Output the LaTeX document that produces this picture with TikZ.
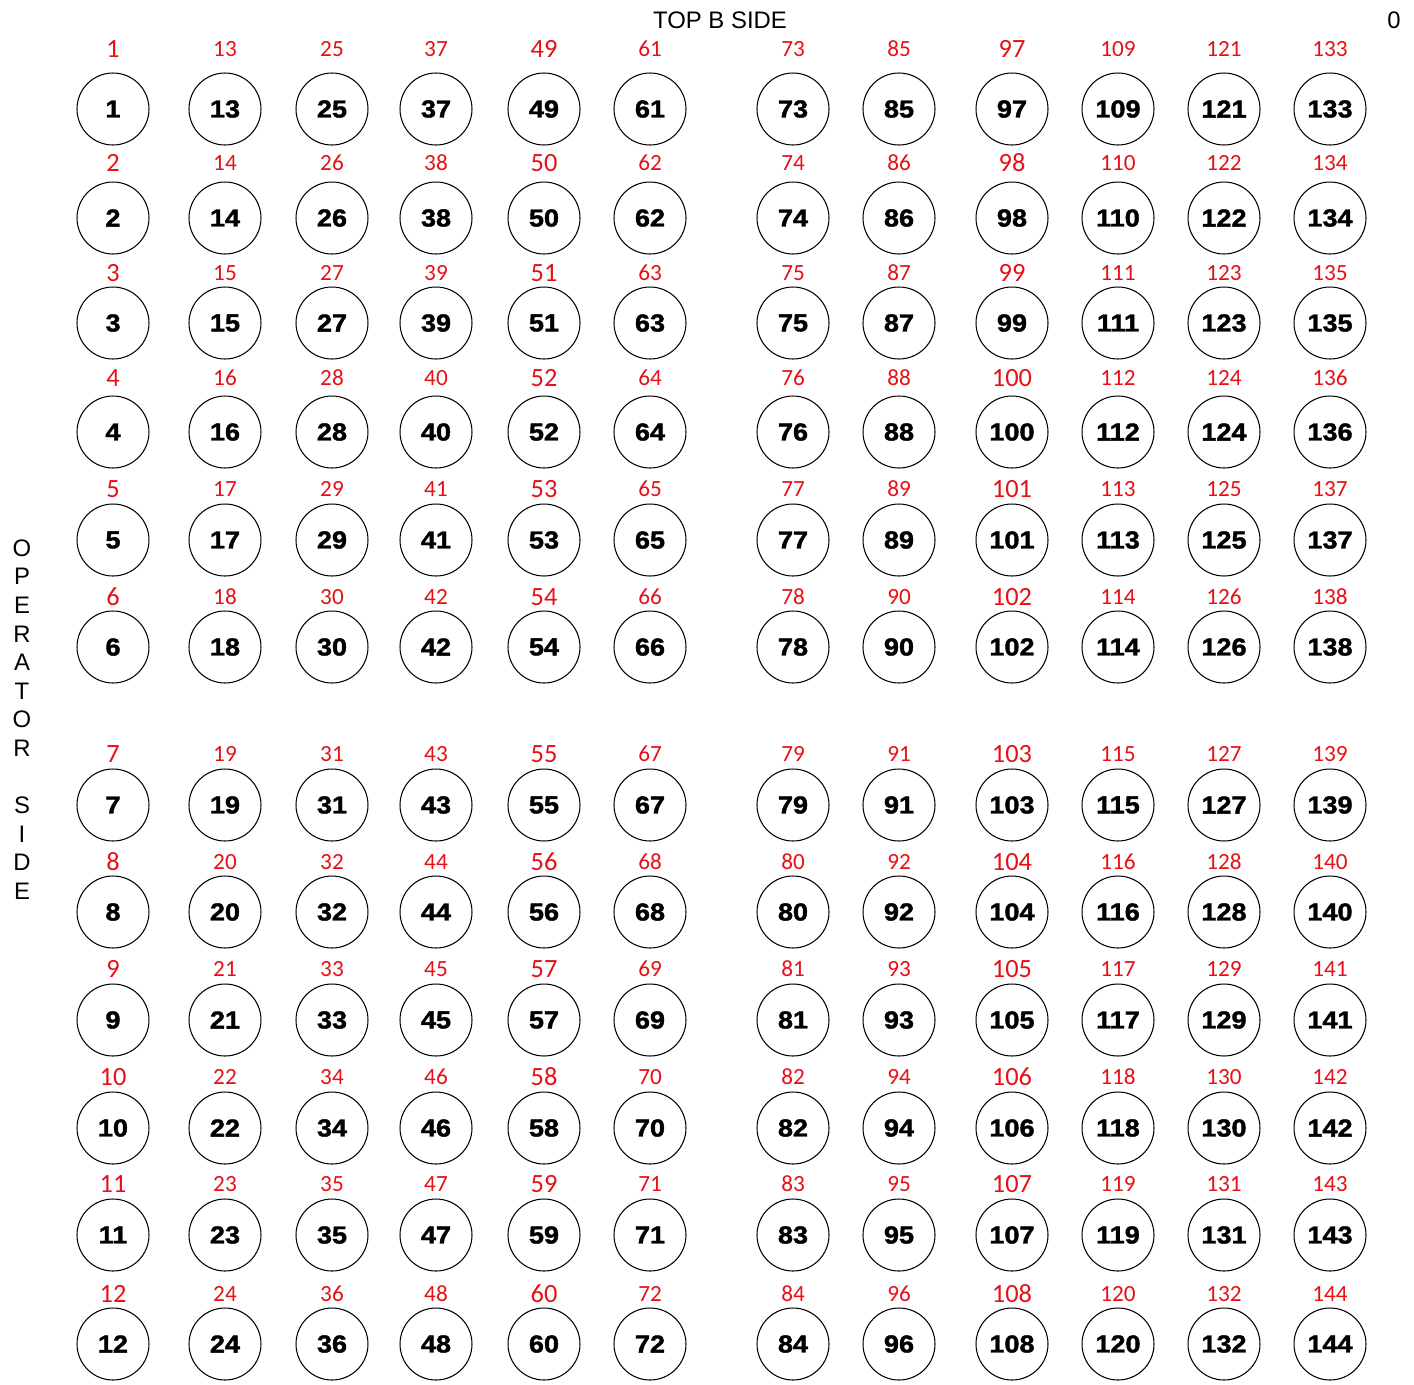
\documentclass[tikz,border=0pt]{standalone}
\usepackage{fontspec}
\setmainfont{Liberation Sans}
\newfontfamily\tagfont{Carlito}
\newfontfamily\holefont{Liberation Sans}[BoldFeatures={FakeBold=1.6,FakeStretch=1.1}]
\usepackage{tikz}
\usetikzlibrary{positioning}
\definecolor{tagred}{RGB}{230,16,22}
\tikzset{
  holebox/.style={circle, draw=black, line width=0.6pt, minimum size=1.44cm, inner sep=0pt,
    font=\holefont\fontsize{14}{14}\selectfont\bfseries},
  tagsmall/.style={text=tagred, inner sep=0pt, font=\tagfont\fontsize{13.2}{13.2}\selectfont},
  tagbig/.style={text=tagred, inner sep=0pt, font=\tagfont\fontsize{15}{15}\selectfont},
  sidetext/.style={inner sep=0pt, font=\fontsize{13.6}{13.6}\selectfont}
}
\begin{document}
\begin{tikzpicture}[x=0.02cm, y=-0.02cm]
\useasboundingbox (0,0) rectangle (1414,1384);

% headings
\node[sidetext] (top) at (720,20) {TOP B SIDE};
\node[sidetext] (zero) at (1394,20) {0};
\foreach \ch [count=\k from 0] in {O,P,E,R,A,T,O,R,{},S,I,D,E}
  \node[sidetext] (op-\k) at (22,548+28.6*\k) {\ch};

% holes, numbered down each column
\foreach \cx [count=\c from 0] in {113,225,332,436,544,650,793,899,1012,1118,1224,1330} {
  \foreach \ry/\ly [count=\r] in {109/49,218/163,323/273,432/378,540/489,647/597,
      805/754,912/862,1020/969,1128/1077,1235/1184,1344/1294} {
    \pgfmathtruncatemacro\n{12*\c+\r}
    \node[holebox] (hole-\n) at (\cx,\ry) {\n};
    \ifnum\c=0 \def\tagstyle{tagbig}\else
    \ifnum\c=4 \def\tagstyle{tagbig}\else
    \ifnum\c=8 \def\tagstyle{tagbig}\else \def\tagstyle{tagsmall}\fi\fi\fi
    \node[\tagstyle] (tag-\n) at (\cx,\ly) {\n};
  }
}
\end{tikzpicture}
\end{document}
